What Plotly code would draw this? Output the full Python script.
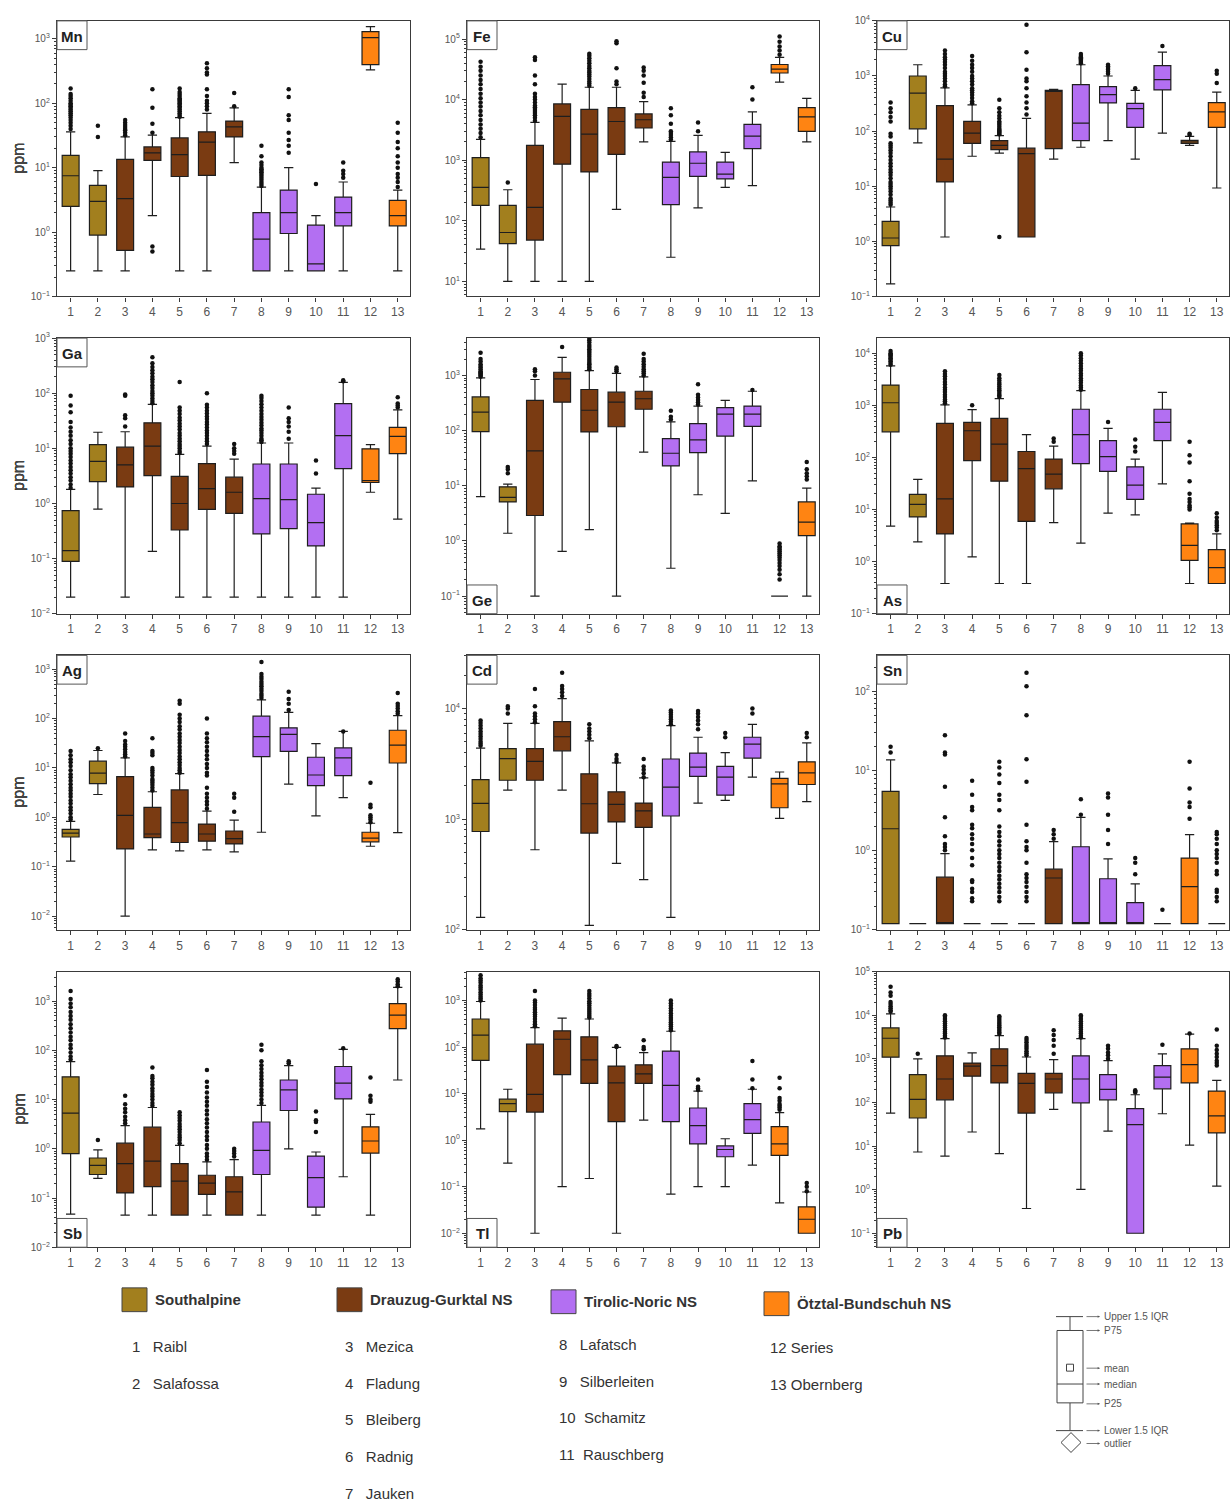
import plotly.graph_objects as go

# ---------------- categories ----------------
SITE_NUMBERS = list(range(1, 14))
SITE_NAMES = ["Raibl", "Salafossa", "Mezica", "Fladung", "Bleiberg", "Radnig", "Jauken",
              "Lafatsch", "Silberleiten", "Schamitz", "Rauschberg", "Series", "Obernberg"]
GROUPS = ["Southalpine", "Drauzug-Gurktal NS", "Tirolic-Noric NS", "Ötztal-Bundschuh NS"]
GROUP_OF_SITE = [0, 0, 1, 1, 1, 1, 1, 2, 2, 2, 2, 3, 3]
GROUP_COLORS = ["#A27F1E", "#7A3B12", "#B36FF2", "#FF8412"]

# ---------------- Mn ----------------
mn_low = [0.25, 0.25, 0.25, 1.8, 0.25, 0.25, 12, 0.25, 0.25, 0.25, 0.25, 330, 0.25]
mn_q1 = [2.5, 0.9, 0.52, 13, 7.3, 7.6, 30, 0.25, 0.95, 0.25, 1.25, 400, 1.25]
mn_med = [7.5, 3.0, 3.3, 17, 16, 25, 43, 0.78, 2.0, 0.32, 2.0, 1050, 1.8]
mn_q3 = [15.5, 5.3, 13.5, 21, 29, 36, 53, 2.0, 4.5, 1.28, 3.5, 1300, 3.1]
mn_high = [36, 9, 30, 32, 60, 70, 85, 5, 10, 1.8, 6, 1550, 4.5]
mn_out = [
    [40, 45, 50, 55, 60, 65, 70, 75, 80, 85, 90, 95, 100, 110, 120, 130, 140, 170],
    [30, 45],
    [32, 35, 38, 40, 43, 46, 50, 55],
    [0.5, 0.6, 35, 48, 85, 165],
    [62, 66, 70, 75, 80, 85, 90, 95, 100, 105, 110, 115, 120, 130, 140, 150, 170],
    [80, 90, 100, 110, 130, 165, 280, 300, 350, 420],
    [90, 145],
    [5.2, 5.6, 6, 6.5, 7, 7.5, 8, 8.5, 9, 9.5, 10, 11, 12, 15, 22],
    [17, 22, 27, 35, 55, 65, 125, 165],
    [5.6],
    [7, 8, 9, 12],
    [],
    [5, 6, 7, 8, 10, 12, 15, 20, 25, 35, 50],
]

# ---------------- Fe ----------------
fe_low = [34, 10, 10, 10, 10, 154, 2000, 25, 163, 357, 380, 19500, 2000]
fe_q1 = [180, 42, 48, 860, 640, 1250, 3400, 185, 540, 490, 1550, 27500, 3000]
fe_med = [355, 64, 167, 5300, 2700, 4350, 4650, 520, 890, 590, 2500, 32000, 5200]
fe_q3 = [1100, 180, 1750, 8500, 6900, 7400, 5800, 930, 1370, 930, 3900, 38000, 7400]
fe_high = [2200, 325, 4200, 18000, 16000, 16000, 9300, 2040, 2560, 1350, 6300, 50000, 10500]
fe_out = [
    [2400, 2800, 3300, 3900, 4600, 5500, 6500, 7700, 9000, 10500, 12500, 15000, 18000, 21000, 25000, 30000, 35000, 42000],
    [430],
    [4500, 5000, 5500, 6000, 6500, 7000, 7500, 8000, 9000, 10000, 11000, 12500, 18000, 25000, 45000, 50000],
    [],
    [17000, 18500, 20000, 22000, 24000, 26000, 28000, 30000, 33000, 36000, 40000, 44000, 48000, 53000, 57000],
    [18000, 20000, 33000, 85000, 92000],
    [11000, 13000, 19000, 25000, 30000, 34000],
    [2200, 2400, 2600, 2800, 3000, 4000, 5500, 7200],
    [3000, 4200],
    [],
    [10000, 16000],
    [55000, 65000, 75000, 90000, 110000],
    [],
]

# ---------------- Cu ----------------
cu_low = [0.17, 61, 1.2, 35, 40, 1.2, 31, 51, 67, 31, 92, 55, 9.3]
cu_q1 = [0.84, 110, 12, 60, 46, 1.2, 48, 67, 325, 117, 560, 60, 117]
cu_med = [1.15, 490, 31, 92, 55, 39, 540, 140, 460, 255, 860, 64, 223]
cu_q3 = [2.3, 1000, 290, 150, 67, 49, 550, 700, 640, 320, 1540, 68, 330]
cu_high = [4.2, 1600, 610, 300, 83, 170, 570, 1600, 1000, 550, 2700, 80, 510]
cu_out = [
    [4.6, 5, 5.5, 6, 7, 8, 9, 10, 11, 12, 14, 16, 18, 20, 23, 26, 30, 35, 40, 45, 50, 55, 60, 80, 90, 150, 180, 220, 260, 330],
    [],
    [650, 700, 800, 900, 1000, 1100, 1200, 1400, 1600, 1800, 2000, 2200, 2500, 2900],
    [320, 350, 400, 450, 500, 550, 600, 700, 800, 900, 1000, 1200, 1400, 1600, 1900, 2300],
    [1.2, 88, 92, 96, 100, 105, 110, 120, 130, 140, 150, 170, 190, 220, 260, 370],
    [200, 260, 330, 430, 600, 800, 900, 1300, 2700, 8500],
    [],
    [1700, 1800, 1900, 2000, 2100, 2200, 2300, 2500],
    [1100, 1200, 1300, 1400, 1500, 1600],
    [600],
    [3500],
    [85, 90],
    [750, 1100, 1250],
]

# ---------------- Ga ----------------
ga_low = [0.02, 0.79, 0.02, 0.135, 0.02, 0.02, 0.02, 0.02, 0.02, 0.02, 0.02, 1.6, 0.52]
ga_q1 = [0.089, 2.5, 2.0, 3.2, 0.33, 0.78, 0.66, 0.28, 0.35, 0.17, 4.3, 2.4, 8]
ga_med = [0.14, 5.8, 5.0, 11, 1.0, 1.86, 1.6, 1.23, 1.17, 0.45, 17, 2.6, 16.5]
ga_q3 = [0.74, 11.7, 10.5, 29, 3.1, 5.3, 3.0, 5.2, 5.2, 1.47, 65, 9.8, 24]
ga_high = [1.8, 19.6, 20, 63, 7.8, 11, 6.4, 12.5, 12.5, 1.9, 158, 11.7, 50]
ga_out = [
    [1.9, 2.2, 2.6, 3, 3.5, 4, 4.6, 5.3, 6, 7, 8, 9, 10, 12, 14, 17, 20, 24, 30, 45, 60, 90],
    [],
    [25, 35, 40, 90, 95],
    [66, 72, 80, 90, 100, 110, 125, 140, 160, 180, 200, 230, 260, 300, 350, 450],
    [8.2, 9, 10, 11, 12, 13.5, 15, 17, 19, 22, 25, 28, 32, 36, 42, 48, 55, 160],
    [12, 13.5, 15, 17, 19, 21, 24, 27, 30, 34, 38, 43, 48, 55, 62, 100],
    [8, 9, 10, 12],
    [13, 14, 15, 17, 19, 21, 23, 26, 29, 33, 37, 42, 48, 55, 63, 72, 82, 90],
    [15, 20, 25, 30, 35, 55],
    [3.5, 6],
    [165, 172],
    [],
    [55, 60, 65, 85],
]

# ---------------- Ge ----------------
ge_low = [6.4, 1.38, 0.1, 0.65, 1.6, 0.1, 41, 0.32, 6.9, 3.16, 12.3, 0.1, 0.1]
ge_q1 = [96, 5.1, 2.9, 330, 95, 118, 245, 23, 40, 80, 120, 0.1, 1.25]
ge_med = [218, 6.2, 43, 870, 235, 330, 380, 39, 68, 200, 200, 0.1, 2.2]
ge_q3 = [410, 9.6, 355, 1150, 560, 500, 520, 72, 135, 262, 280, 0.1, 5.1]
ge_high = [910, 10.7, 850, 2140, 1230, 1100, 950, 145, 280, 355, 520, 0.1, 9.1]
ge_out = [
    [950, 1000, 1050, 1100, 1150, 1200, 1300, 1400, 1500, 1600, 1800, 2000, 2600],
    [17, 20, 22],
    [1000, 1200, 1300],
    [3300],
    [1300, 1400, 1500, 1600, 1700, 1850, 2000, 2200, 2400, 2600, 2800, 3000, 3300, 3600, 4000, 4400, 4800],
    [1200, 1300, 1400],
    [1000, 1100, 1200, 1300, 1450, 1600, 1800, 2000, 2500],
    [160, 180, 230],
    [300, 330, 360, 400, 450, 700],
    [],
    [550],
    [0.2, 0.25, 0.3, 0.35, 0.4, 0.45, 0.5, 0.55, 0.6, 0.65, 0.7, 0.75, 0.8, 0.9],
    [13, 15, 17, 20, 27],
]

# ---------------- As ----------------
as_low = [4.8, 2.4, 0.38, 1.23, 0.38, 0.38, 5.6, 2.26, 8.5, 7.9, 31, 0.38, 0.38]
as_q1 = [310, 7.2, 3.4, 87, 35, 5.9, 25, 76, 54, 15.7, 210, 1.06, 0.38]
as_med = [1120, 12.6, 16, 325, 180, 61, 48, 275, 104, 29.5, 470, 2.05, 0.77]
as_q3 = [2450, 19.5, 450, 470, 560, 130, 93, 840, 210, 66, 840, 5.3, 1.7]
as_high = [5700, 38, 1020, 830, 1350, 275, 165, 1920, 360, 93, 1780, 5.5, 3.4]
as_out = [
    [6000, 6500, 7000, 7500, 8000, 8500, 9000, 9500, 10000, 11000],
    [],
    [1100, 1200, 1300, 1450, 1600, 1800, 2000, 2200, 2500, 2800, 3200, 3600, 4000, 4500],
    [1000],
    [1450, 1550, 1650, 1800, 1950, 2100, 2300, 2500, 2700, 3000, 3300, 3800],
    [],
    [200, 230],
    [2000, 2200, 2400, 2700, 3000, 3300, 3700, 4100, 4600, 5100, 5700, 6400, 7200, 8000, 9000, 10000],
    [480],
    [130, 160, 220],
    [],
    [10, 11, 12, 14, 16, 20, 35, 80, 110, 200],
    [4, 4.5, 5, 5.5, 6, 7, 8.5],
]

# ---------------- Ag ----------------
ag_low = [0.13, 2.9, 0.01, 0.22, 0.21, 0.22, 0.2, 0.5, 4.7, 1.07, 2.5, 0.26, 0.49]
ag_q1 = [0.4, 4.8, 0.23, 0.39, 0.31, 0.33, 0.29, 17, 21.6, 4.4, 7, 0.32, 12.6]
ag_med = [0.48, 7.9, 1.1, 0.46, 0.78, 0.46, 0.37, 43, 48, 7.2, 16, 0.38, 29]
ag_q3 = [0.57, 13.7, 6.7, 1.6, 3.6, 0.73, 0.53, 112, 65, 16.5, 25.5, 0.5, 58]
ag_high = [0.83, 22.6, 16, 3.3, 7.7, 1.34, 0.88, 240, 134, 31, 55, 0.76, 115]
ag_out = [
    [0.9, 1, 1.2, 1.4, 1.6, 1.9, 2.2, 2.6, 3, 3.5, 4, 4.7, 5.5, 6.5, 7.5, 9, 11, 13, 15, 18, 22],
    [25],
    [17, 19, 21, 24, 27, 30, 35, 50],
    [3.5, 4, 4.5, 5, 5.5, 6, 7, 8, 9, 10, 18, 20, 22, 40],
    [8, 9, 10, 11.5, 13, 15, 17, 20, 23, 27, 32, 37, 43, 50, 60, 70, 85, 100, 120, 200, 230],
    [1.5, 1.8, 2.1, 2.5, 3, 4, 7, 8, 10, 12, 15, 18, 22, 27, 33, 40, 50, 100],
    [1.3, 2.5, 3.0],
    [260, 290, 320, 360, 400, 450, 500, 560, 630, 700, 800, 1400],
    [150, 200, 250, 350],
    [],
    [55],
    [0.8, 0.9, 1.0, 1.1, 1.6, 1.8, 5],
    [125, 140, 160, 180, 200, 330],
]

# ---------------- Cd ----------------
cd_low = [130, 1830, 530, 1830, 110, 400, 285, 130, 1400, 1480, 2400, 1020, 1440]
cd_q1 = [775, 2250, 2250, 4150, 750, 945, 845, 1070, 2440, 1650, 3570, 1270, 2060]
cd_med = [1390, 3530, 3330, 5560, 1380, 1360, 1190, 1950, 2950, 2400, 4760, 2090, 2620]
cd_q3 = [2280, 4350, 4350, 7600, 2570, 1770, 1400, 3500, 3960, 3000, 5500, 2340, 3300]
cd_high = [4380, 7330, 7330, 12300, 5100, 3230, 2360, 7000, 5500, 4000, 7200, 2670, 4900]
cd_out = [
    [4600, 4800, 5000, 5300, 5600, 5900, 6200, 6600, 7000, 7400, 7800],
    [9000, 10000, 10500],
    [7500, 8000, 8500, 9000, 10500, 15000],
    [13000, 14000, 15000, 16000, 21000],
    [5400, 5800, 6200, 6600, 7200],
    [3300, 3500, 3800],
    [2400, 2600, 2800, 3000, 3500],
    [7200, 7600, 8000, 8400, 8800, 9200, 9600],
    [6500, 7200, 7800, 8400, 9000, 9500],
    [5500, 6000],
    [9000, 10000],
    [],
    [5500, 6000],
]

# ---------------- Sn ----------------
sn_low = [0.12, 0.12, 0.12, 0.12, 0.12, 0.12, 0.12, 0.12, 0.12, 0.12, 0.12, 0.12, 0.12]
sn_q1 = [0.12, 0.12, 0.12, 0.12, 0.12, 0.12, 0.12, 0.12, 0.12, 0.12, 0.12, 0.12, 0.12]
sn_med = [1.87, 0.12, 0.12, 0.12, 0.12, 0.12, 0.45, 0.12, 0.12, 0.12, 0.12, 0.35, 0.12]
sn_q3 = [5.5, 0.12, 0.46, 0.12, 0.12, 0.12, 0.58, 1.11, 0.44, 0.22, 0.12, 0.8, 0.12]
sn_high = [13.7, 0.12, 0.91, 0.12, 0.12, 0.12, 1.29, 2.6, 0.78, 0.38, 0.12, 1.58, 0.12]
sn_out = [
    [17, 20],
    [],
    [1.0, 1.1, 1.2, 1.5, 2.6, 6.3, 16, 17, 28],
    [0.23, 0.25, 0.3, 0.33, 0.4, 0.42, 0.65, 0.8, 1.0, 1.2, 1.4, 1.6, 1.9, 2.1, 3.2, 3.5, 5, 7.5],
    [0.23, 0.26, 0.3, 0.34, 0.38, 0.43, 0.48, 0.55, 0.62, 0.7, 0.8, 0.9, 1.0, 1.15, 1.3, 1.5, 1.7, 2.0, 3.2, 4.3, 5, 7, 9, 11, 13],
    [0.23, 0.26, 0.3, 0.35, 0.4, 0.45, 0.5, 0.7, 1.0, 1.1, 1.3, 2.1, 7.3, 14, 50, 115, 170],
    [1.4, 1.6, 1.8],
    [2.8, 4.4],
    [1.2, 1.8, 2.8, 4.6, 5.2],
    [0.5, 0.7, 0.8],
    [0.18],
    [2.5, 3.5, 4, 6, 13],
    [0.23, 0.26, 0.3, 0.32, 0.5, 0.55, 0.7, 0.8, 0.9, 1.0, 1.2, 1.4, 1.6, 1.7],
]

# ---------------- Sb ----------------
sb_low = [0.047, 0.25, 0.045, 0.045, 0.045, 0.045, 0.045, 0.045, 1.0, 0.045, 0.27, 0.045, 25]
sb_q1 = [0.8, 0.3, 0.127, 0.17, 0.045, 0.118, 0.045, 0.3, 6, 0.065, 10.3, 0.82, 277]
sb_med = [5.3, 0.46, 0.5, 0.56, 0.22, 0.2, 0.133, 0.93, 15.8, 0.26, 21.5, 1.44, 520]
sb_q3 = [29, 0.65, 1.3, 2.75, 0.5, 0.29, 0.27, 3.5, 25, 0.71, 47, 2.8, 890]
sb_high = [59, 0.95, 2.95, 6.9, 1.17, 0.54, 0.6, 7.6, 49, 0.86, 105, 5, 1900]
sb_out = [
    [65, 75, 90, 110, 130, 160, 190, 230, 280, 340, 420, 500, 600, 750, 900, 1100, 1600],
    [1.5],
    [3.3, 3.8, 4.5, 5.5, 6.5, 8, 12],
    [7.5, 8.5, 10, 11.5, 13, 15, 17, 20, 23, 27, 30, 45],
    [1.3, 1.5, 1.7, 1.9, 2.2, 2.5, 2.8, 3.2, 3.7, 4.2, 4.8, 5.5],
    [0.6, 0.7, 0.8, 1, 1.2, 1.5, 1.8, 2.2, 2.7, 3.3, 4, 5, 6, 7.5, 9, 11, 14, 18, 23, 40],
    [0.7, 0.8, 0.9, 1.0],
    [8.5, 10, 12, 14, 16, 19, 22, 26, 30, 35, 42, 50, 60, 100, 130],
    [55, 60],
    [2.2, 3.5, 3.8, 5.7],
    [110],
    [9, 10, 12, 28],
    [2000, 2200, 2500, 2800],
]

# ---------------- Tl ----------------
tl_low = [1.75, 0.32, 0.01, 0.1, 0.15, 0.01, 2.7, 0.069, 0.1, 0.1, 0.29, 0.045, 0.01]
tl_q1 = [51.5, 4.1, 4.0, 25.6, 16.5, 2.5, 16.5, 2.5, 0.83, 0.44, 1.4, 0.47, 0.01]
tl_med = [180, 6.1, 9.6, 147, 53, 17, 26.5, 15, 2.04, 0.63, 2.75, 0.83, 0.02]
tl_q3 = [400, 7.6, 115, 223, 166, 39, 41.5, 82, 4.9, 0.75, 6.1, 1.95, 0.037]
tl_high = [950, 12.4, 260, 417, 400, 98, 76, 218, 11.3, 1.07, 12.4, 3.9, 0.077]
tl_out = [
    [1000, 1100, 1200, 1350, 1500, 1700, 1900, 2100, 2400, 2700, 3000, 3500],
    [],
    [280, 310, 350, 400, 450, 500, 560, 630, 700, 800, 900, 1000, 1600],
    [],
    [430, 470, 520, 570, 630, 700, 780, 870, 960, 1100, 1250, 1400, 1600],
    [100, 105],
    [90, 100, 140],
    [230, 250, 280, 310, 340, 380, 420, 470, 530, 600, 680, 770, 870, 1000],
    [12, 13, 14, 20],
    [],
    [13, 20, 50],
    [4.5, 5, 5.5, 6, 7, 8, 13, 22],
    [0.08, 0.1, 0.12],
]

# ---------------- Pb ----------------
pb_low = [57, 7.3, 5.9, 21, 6.7, 0.37, 69, 1.02, 22, 0.1, 55, 10.5, 1.2]
pb_q1 = [1090, 44, 115, 400, 280, 57, 166, 98, 115, 0.1, 205, 280, 20]
pb_med = [2960, 117, 345, 680, 700, 275, 345, 345, 200, 31, 380, 740, 49]
pb_q3 = [5100, 435, 1170, 800, 1700, 465, 465, 1170, 435, 72, 700, 1700, 182]
pb_high = [10700, 1000, 2900, 1370, 3400, 1100, 960, 2900, 910, 150, 1300, 3700, 320]
pb_out = [
    [12000, 13000, 14500, 16000, 18000, 20000, 28000, 33000, 45000],
    [1300],
    [3100, 3400, 3800, 4200, 4700, 5200, 5800, 6500, 7300, 8200, 9200, 10000],
    [],
    [3700, 4000, 4400, 4800, 5300, 5800, 6400, 7000, 7800, 8600, 9500],
    [1200, 1350, 1500, 1700, 1900, 2100, 2400, 2700, 3000],
    [1300, 2000, 2700, 3500, 4500],
    [3100, 3400, 3800, 4200, 4700, 5200, 5800, 6500, 7300, 8200, 9200, 10000],
    [1000, 1200, 1400, 1700, 2000],
    [170, 180, 190],
    [2100],
    [3800],
    [700, 800, 900, 1100, 1300, 1600, 2000, 4700],
]

# name, stats, log10 axis range, decades with labels, label corner
PANELS = [
    ("Mn", mn_low, mn_q1, mn_med, mn_q3, mn_high, mn_out, (-1, 3.28), (-1, 3), "top"),
    ("Fe", fe_low, fe_q1, fe_med, fe_q3, fe_high, fe_out, (0.75, 5.3), (1, 5), "top"),
    ("Cu", cu_low, cu_q1, cu_med, cu_q3, cu_high, cu_out, (-1, 4), (-1, 4), "top"),
    ("Ga", ga_low, ga_q1, ga_med, ga_q3, ga_high, ga_out, (-2, 3), (-2, 3), "top"),
    ("Ge", ge_low, ge_q1, ge_med, ge_q3, ge_high, ge_out, (-1.32, 3.68), (-1, 3), "bottom"),
    ("As", as_low, as_q1, as_med, as_q3, as_high, as_out, (-1, 4.29), (-1, 4), "bottom"),
    ("Ag", ag_low, ag_q1, ag_med, ag_q3, ag_high, ag_out, (-2.28, 3.28), (-2, 3), "top"),
    ("Cd", cd_low, cd_q1, cd_med, cd_q3, cd_high, cd_out, (2, 4.48), (2, 4), "top"),
    ("Sn", sn_low, sn_q1, sn_med, sn_q3, sn_high, sn_out, (-1, 2.45), (-1, 2), "top"),
    ("Sb", sb_low, sb_q1, sb_med, sb_q3, sb_high, sb_out, (-2, 3.6), (-2, 3), "bottom"),
    ("Tl", tl_low, tl_q1, tl_med, tl_q3, tl_high, tl_out, (-2.3, 3.62), (-2, 3), "bottom"),
    ("Pb", pb_low, pb_q1, pb_med, pb_q3, pb_high, pb_out, (-1.32, 5), (-1, 5), "bottom"),
]

# ---------------- layout geometry (pixels) ----------------
W, H = 1230, 1508
COL_X = [(57, 410), (467, 819), (877, 1229)]
ROW_Y = [(14, 292), (334, 612), (654, 931), (973, 1251)]
FONT = "Arial, Liberation Sans, sans-serif"
AXIS_COLOR = "#3a3a3a"
TICK_FONT_COLOR = "#555555"


def px(x):
    return x / W


def py(y):
    return 1 - y / H


def power_label(k):
    return "10<sup>" + str(k).replace("-", "\u2212") + "</sup>"


def note(x, y, text, size, color="#333", xanchor="center", yanchor="middle", **kw):
    d = dict(x=px(x), y=py(y), xref="paper", yref="paper", text=text, showarrow=False,
             xanchor=xanchor, yanchor=yanchor, font=dict(size=size, color=color, family=FONT))
    d.update(kw)
    return d


fig = go.Figure()
layout = dict(
    width=W, height=H, margin=dict(l=0, r=0, t=0, b=0),
    paper_bgcolor="white", plot_bgcolor="white",
    showlegend=False, font=dict(family=FONT, color="#333"),
)
shapes = []
annotations = []

for i, (name, low, q1, med, q3, high, out, yr, dec, corner) in enumerate(PANELS):
    r, c = divmod(i, 3)
    n = "" if i == 0 else str(i + 1)
    x0, x1 = COL_X[c]
    y0, y1 = ROW_Y[r]
    xa, ya = "x" + n, "y" + n

    for g, color in enumerate(GROUP_COLORS):
        idx = [k for k in range(13) if GROUP_OF_SITE[k] == g]
        fig.add_trace(go.Box(
            x=[SITE_NUMBERS[k] for k in idx],
            q1=[q1[k] for k in idx], median=[med[k] for k in idx], q3=[q3[k] for k in idx],
            lowerfence=[low[k] for k in idx], upperfence=[high[k] for k in idx],
            orientation="v", boxpoints=False, fillcolor=color,
            line=dict(color="#1e1e1e", width=1.2), width=0.62, whiskerwidth=0.55,
            xaxis=xa, yaxis=ya, hoverinfo="skip",
        ))
    ox, oy = [], []
    for k in range(13):
        for v in out[k]:
            ox.append(SITE_NUMBERS[k])
            oy.append(v)
    fig.add_trace(go.Scatter(
        x=ox, y=oy, mode="markers", xaxis=xa, yaxis=ya,
        marker=dict(color="#111111", size=4.5, symbol="circle"), hoverinfo="skip",
    ))

    minor_vals = [m * 10 ** k for k in range(int(yr[0]) - 2, int(yr[1]) + 2) for m in range(2, 10)]
    layout["xaxis" + n] = dict(
        domain=[px(x0), px(x1)], anchor=ya, range=[0.5, 13.45],
        tickmode="array", tickvals=SITE_NUMBERS, ticktext=[str(s) for s in SITE_NUMBERS],
        ticks="outside", ticklen=4, tickcolor=AXIS_COLOR, showline=True, mirror=True,
        linecolor=AXIS_COLOR, linewidth=1.4, showgrid=False, zeroline=False,
        tickfont=dict(size=12, color=TICK_FONT_COLOR, family=FONT),
    )
    layout["yaxis" + n] = dict(
        domain=[py(y1), py(y0)], anchor=xa, type="log", range=list(yr),
        tickmode="array", tickvals=[10 ** k for k in range(dec[0], dec[1] + 1)],
        ticktext=[power_label(k) for k in range(dec[0], dec[1] + 1)],
        ticks="outside", ticklen=4, tickcolor=AXIS_COLOR,
        minor=dict(tickmode="array", tickvals=minor_vals, ticks="outside", ticklen=2, tickcolor=AXIS_COLOR),
        showline=True, mirror=True, linecolor=AXIS_COLOR, linewidth=1.4,
        showgrid=False, zeroline=False,
        tickfont=dict(size=10, color=TICK_FONT_COLOR, family=FONT),
    )

    # ppm title
    annotations.append(note(19, (y0 + y1) / 2, "ppm", 16, "#444", textangle=-90))
    # element label box
    if corner == "top":
        by0, by1 = y0, y0 + 29
    else:
        by0, by1 = y1 - 29, y1
    shapes.append(dict(type="rect", xref="paper", yref="paper",
                       x0=px(x0), x1=px(x0 + 30), y0=py(by1), y1=py(by0),
                       line=dict(color="#555", width=1), fillcolor="white"))
    annotations.append(note(x0 + 15, (by0 + by1) / 2 + 1, "<b>" + name + "</b>", 15, "#222"))

# ---------------- group legend ----------------
LEGEND_POS = [(122, 1304), (337, 1304), (551, 1306), (764, 1308)]
for g, (lx, ly) in enumerate(LEGEND_POS):
    shapes.append(dict(type="rect", xref="paper", yref="paper",
                       x0=px(lx), x1=px(lx + 25), y0=py(ly + 12), y1=py(ly - 12),
                       line=dict(color="#444", width=1), fillcolor=GROUP_COLORS[g]))
    annotations.append(note(lx + 31, ly, "<b>" + GROUPS[g] + "</b>", 15, "#333", xanchor="left"))

LIST_X = [130, 343, 557, 768]
LIST_Y0 = [1351, 1351, 1349, 1352]
LIST_STEP = 37
for k in range(13):
    g = GROUP_OF_SITE[k]
    j = [s for s in range(13) if GROUP_OF_SITE[s] == g].index(k)
    num = str(SITE_NUMBERS[k])
    gap = "\u00a0\u00a0\u00a0" if len(num) == 1 else ("\u00a0" if g == 3 else "\u00a0\u00a0")
    annotations.append(note(LIST_X[g], LIST_Y0[g] + j * LIST_STEP, num + gap + SITE_NAMES[k],
                            15, "#333", xanchor="left"))

# ---------------- box-plot key ----------------
KX = 1070
KEY_LINE = dict(color="#444", width=1)
shapes += [
    dict(type="line", xref="paper", yref="paper", x0=px(KX), x1=px(KX), y0=py(1321), y1=py(1335), line=KEY_LINE),
    dict(type="line", xref="paper", yref="paper", x0=px(KX), x1=px(KX), y0=py(1408), y1=py(1436), line=KEY_LINE),
    dict(type="line", xref="paper", yref="paper", x0=px(1056), x1=px(1083), y0=py(1321), y1=py(1321), line=KEY_LINE),
    dict(type="line", xref="paper", yref="paper", x0=px(1056), x1=px(1083), y0=py(1436), y1=py(1436), line=KEY_LINE),
    dict(type="rect", xref="paper", yref="paper", x0=px(1057), x1=px(1083), y0=py(1408), y1=py(1335),
         line=KEY_LINE, fillcolor="white"),
    dict(type="line", xref="paper", yref="paper", x0=px(1057), x1=px(1083), y0=py(1389), y1=py(1389), line=KEY_LINE),
    dict(type="rect", xref="paper", yref="paper", x0=px(KX - 3.5), x1=px(KX + 3.5), y0=py(1376), y1=py(1369), line=KEY_LINE),
    dict(type="path", xref="paper", yref="paper",
         path="M {} {} L {} {} L {} {} L {} {} Z".format(px(1061), py(1448), px(1071), py(1438),
                                                        px(1081), py(1448), px(1071), py(1458)),
         line=KEY_LINE),
]
KEY_LABELS = [("Upper 1.5 IQR", 1321), ("P75", 1335), ("mean", 1373), ("median", 1389),
              ("P25", 1409), ("Lower 1.5 IQR", 1436), ("outlier", 1449)]
for text, ky in KEY_LABELS:
    annotations.append(dict(
        x=px(1100), y=py(ky), xref="paper", yref="paper", text="",
        showarrow=True, ax=-15, ay=0, axref="pixel", ayref="pixel",
        arrowhead=2, arrowsize=0.6, arrowwidth=0.8, arrowcolor="#555",
    ))
    annotations.append(note(1102, ky, text, 10, "#555", xanchor="left"))

layout["shapes"] = shapes
layout["annotations"] = annotations
fig.update_layout(**layout)
fig.write_html("out.html")
